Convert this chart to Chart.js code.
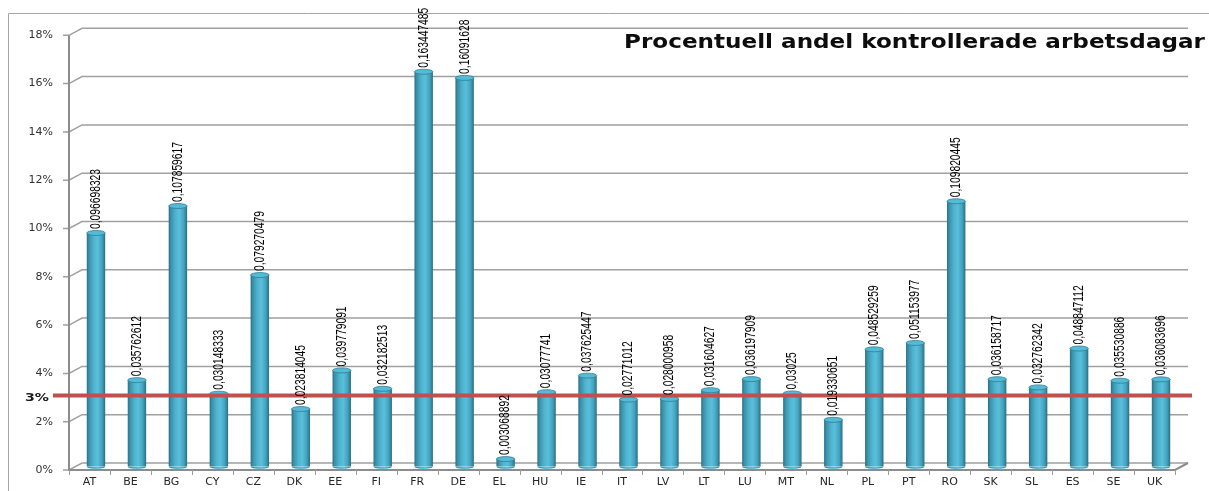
<!DOCTYPE html>
<html>
<head>
<meta charset="utf-8">
<script src="https://cdn.jsdelivr.net/npm/chart.js@4/dist/chart.umd.min.js"></script>
<style>
html,body{margin:0;padding:0;background:#fff;}
#wrap{position:relative;width:1209px;height:491px;}
</style>
</head>
<body>
<div id="wrap"><canvas id="c"></canvas></div>
<script>
const categories = ['AT','BE','BG','CY','CZ','DK','EE','FI','FR','DE','EL','HU','IE','IT','LV','LT','LU','MT','NL','PL','PT','RO','SK','SL','ES','SE','UK'];
const shares = [0.096698323,0.035762612,0.107859617,0.030148333,0.079270479,0.023814045,0.039779091,0.032182513,0.163447485,0.16091628,0.003068892,0.03077741,0.037625447,0.02771012,0.028000958,0.031604627,0.036197909,0.03025,0.019330651,0.048529259,0.051153977,0.109820445,0.036158717,0.032762342,0.048847112,0.035530886,0.036083696];
const yTickValues = [0,0.02,0.04,0.06,0.08,0.10,0.12,0.14,0.16,0.18];
const yTickLabels = ['0%','2%','4%','6%','8%','10%','12%','14%','16%','18%'];
const threshold = 0.03;
const thresholdLabel = '3%';
const chartTitle = 'Procentuell andel kontrollerade arbetsdagar';

const DX = 6.5, DY = 3.5;
const BAR_PCT = 0.45;

function barGradient(ctx, cx, w) {
  const g = ctx.createLinearGradient(cx - w / 2, 0, cx + w / 2, 0);
  g.addColorStop(0, '#2a7084');
  g.addColorStop(0.12, '#3a91a9');
  g.addColorStop(0.38, '#50b4cf');
  g.addColorStop(0.58, '#5abfdb');
  g.addColorStop(0.82, '#43a3be');
  g.addColorStop(1, '#2a6e81');
  return g;
}

const wallPlugin = {
  id: 'wall3d',
  beforeDatasetsDraw(chart) {
    const {ctx, chartArea: a, scales: {x, y}} = chart;
    ctx.save();
    ctx.strokeStyle = '#a6a6a6'; ctx.lineWidth = 1;
    ctx.beginPath(); ctx.moveTo(8.5, 491); ctx.lineTo(8.5, 13.5); ctx.lineTo(1209, 13.5); ctx.stroke();
    ctx.strokeStyle = '#a0a0a0'; ctx.lineWidth = 1.5;
    yTickValues.forEach(v => {
      const py = y.getPixelForValue(v);
      ctx.beginPath();
      ctx.moveTo(a.left - DX - 6, py + DY);
      ctx.lineTo(a.left - DX, py + DY);
      ctx.lineTo(a.left + DX, py - DY);
      ctx.lineTo(a.right + DX, py - DY);
      ctx.stroke();
    });
    const y0 = y.getPixelForValue(0);
    ctx.strokeStyle = '#8c8c8c'; ctx.lineWidth = 2;
    ctx.beginPath();
    ctx.moveTo(a.left - DX, a.top + DY);
    ctx.lineTo(a.left - DX, y0 + DY);
    ctx.lineTo(a.right - DX, y0 + DY);
    ctx.lineTo(a.right + DX, y0 - DY);
    ctx.stroke();
    ctx.lineWidth = 1; ctx.strokeStyle = '#9c9c9c';
    const n = categories.length, step = (a.right - a.left) / n;
    for (let i = 0; i <= n; i++) {
      const px = Math.round(a.left - DX + i * step) + 0.5;
      ctx.beginPath(); ctx.moveTo(px, y0 + DY); ctx.lineTo(px, y0 + DY + 5); ctx.stroke();
    }
    ctx.restore();
  },
  afterDatasetsDraw(chart) {
    const {ctx, chartArea: a, scales: {x, y}} = chart;
    const meta = chart.getDatasetMeta(0);
    const y0 = y.getPixelForValue(0);
    ctx.save();
    meta.data.forEach(bar => {
      const p = bar.getProps(['x', 'y', 'width'], true);
      const rx = p.width / 2;
      ctx.beginPath();
      ctx.ellipse(p.x, y0, rx, 2.5, 0, 0, Math.PI);
      ctx.fillStyle = barGradient(ctx, p.x, p.width);
      ctx.fill();
      ctx.beginPath();
      ctx.ellipse(p.x, p.y, rx, 2.5, 0, 0, Math.PI * 2);
      ctx.fillStyle = '#55bad5';
      ctx.fill();
      ctx.strokeStyle = '#2f7f95'; ctx.lineWidth = 0.8;
      ctx.stroke();
    });
    const ty = y.getPixelForValue(threshold) + 1.5;
    ctx.strokeStyle = '#c0504d'; ctx.lineWidth = 4;
    ctx.beginPath(); ctx.moveTo(53, ty); ctx.lineTo(a.right + DX + 4, ty); ctx.stroke();
    // value labels (condensed, rotated)
    ctx.fillStyle = '#000000';
    ctx.font = '14px "Liberation Sans", Arial, sans-serif';
    ctx.textAlign = 'left'; ctx.textBaseline = 'middle';
    const refW = ctx.measureText('0,096698323').width;
    const squeeze = 60 / refW;
    meta.data.forEach((bar, i) => {
      const p = bar.getProps(['x', 'y'], true);
      ctx.save();
      ctx.translate(p.x, p.y - 4);
      ctx.rotate(-Math.PI / 2);
      ctx.scale(squeeze, 1);
      ctx.fillText(String(shares[i]).replace('.', ','), 0, 0);
      ctx.restore();
    });
    ctx.save();
    ctx.font = 'bold 11px "DejaVu Sans", sans-serif';
    ctx.fillStyle = '#1a1a1a';
    ctx.textBaseline = 'middle'; ctx.textAlign = 'left';
    const lw = ctx.measureText(thresholdLabel).width;
    ctx.translate(25, ty + 3);
    ctx.scale(24 / lw, 1);
    ctx.fillText(thresholdLabel, 0, 0);
    ctx.restore();
    ctx.save();
    ctx.font = 'bold 19px "DejaVu Sans", sans-serif';
    ctx.fillStyle = '#0d0d0d';
    ctx.textBaseline = 'middle'; ctx.textAlign = 'left';
    const tw = ctx.measureText(chartTitle).width;
    ctx.translate(624, 43);
    ctx.scale(581 / tw, 1);
    ctx.fillText(chartTitle, 0, 0);
    ctx.restore();
    ctx.restore();
  }
};

new Chart(document.getElementById('c'), {
  type: 'bar',
  data: {
    labels: categories,
    datasets: [{
      data: shares,
      barPercentage: BAR_PCT,
      categoryPercentage: 1,
      borderWidth: 0,
      backgroundColor: (c) => {
        const ch = c.chart, xs = ch.scales && ch.scales.x;
        if (!xs || !ch.chartArea) return '#4bacc6';
        const cx = xs.getPixelForValue(c.dataIndex);
        const w = (xs.width / categories.length) * BAR_PCT;
        return barGradient(ch.ctx, cx, w);
      }
    }]
  },
  options: {
    responsive: true,
    maintainAspectRatio: false,
    animation: false,
    layout: {padding: {left: 0, right: 27.5, top: 31.8, bottom: 0}},
    plugins: {legend: {display: false}, tooltip: {enabled: false}, title: {display: false}},
    scales: {
      x: {
        grid: {display: false, drawTicks: false},
        border: {display: false},
        ticks: {
          color: '#262626',
          font: {family: '"DejaVu Sans", sans-serif', size: 11},
          padding: 9.5,
          labelOffset: -DX,
          maxRotation: 0,
          autoSkip: false
        },
        afterFit: (s) => { s.height = 24.5; s.paddingLeft = 0; s.paddingRight = 0; }
      },
      y: {
        min: 0, max: 0.18,
        grid: {display: false, drawTicks: false},
        border: {display: false},
        afterBuildTicks: (s) => { s.ticks = yTickValues.map(v => ({value: v})); },
        ticks: {
          color: '#333333',
          font: {family: '"DejaVu Sans", sans-serif', size: 11},
          padding: 22.5,
          labelOffset: DY,
          callback: (v, i) => yTickLabels[i]
        },
        afterFit: (s) => { s.width = 75.5; s.paddingTop = 0; s.paddingBottom = 0; }
      }
    }
  },
  plugins: [wallPlugin]
});
</script>
</body>
</html>
